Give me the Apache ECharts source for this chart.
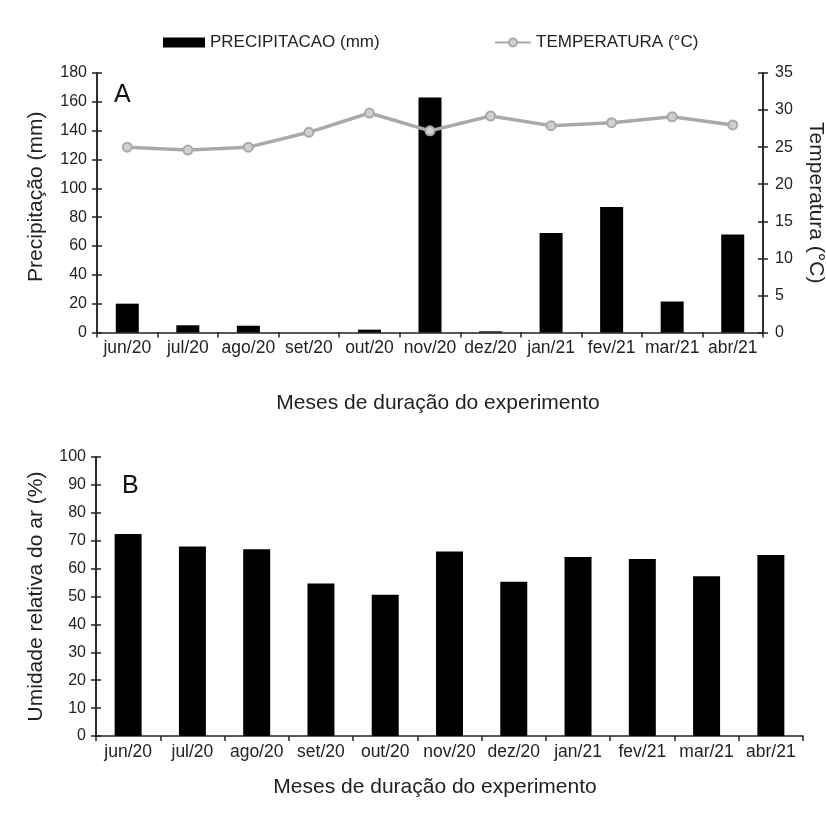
<!DOCTYPE html>
<html>
<head>
<meta charset="utf-8">
<script src="https://cdn.jsdelivr.net/npm/echarts@6/dist/echarts.min.js"></script>
<style>
html,body{margin:0;padding:0;background:#fff;}
#chart{width:826px;height:821px;}
</style>
</head>
<body>
<div id="chart"></div>
<script>
// Months of the experiment
const months = ['jun/20','jul/20','ago/20','set/20','out/20','nov/20','dez/20','jan/21','fev/21','mar/21','abr/21'];
// Panel A: monthly rainfall (mm) and mean temperature (°C)
const precipitacao = [20, 5, 4.7, 0, 2, 163, 0.8, 69, 87, 21.5, 68];
const temperatura = [25.0, 24.6, 25.0, 27.0, 29.6, 27.2, 29.2, 27.9, 28.3, 29.1, 28.0];
// Panel B: relative air humidity (%)
const umidade = [72.4, 67.9, 66.9, 54.7, 50.6, 66.1, 55.3, 64.2, 63.4, 57.3, 64.9];
// Axis tick ranges
const precipAxis = {min: 0, max: 180, interval: 20};
const tempAxis = {min: 0, max: 35, interval: 5};
const umidAxis = {min: 0, max: 100, interval: 10};

const FONT = 'Liberation Sans, Arial, sans-serif';
const INK = '#222';
const axisLine = {show: true, lineStyle: {color: INK, width: 1.5}};
const axisTick = {show: true, inside: false, length: 5, lineStyle: {color: INK, width: 1.5}};
const tickLabel = {color: INK, fontSize: 16, fontFamily: FONT};
const catLabel = {color: INK, fontSize: 17.5, fontFamily: FONT, margin: 7, interval: 0};
const nameStyle = {color: INK, fontSize: 21, fontFamily: FONT};

// Inner half of the cross-shaped value ticks: a label-less twin axis with inward ticks
function innerTicks(gridIndex, position, range) {
  return Object.assign({
    type: 'value', gridIndex: gridIndex, position: position, offset: 0,
    axisLine: axisLine, axisLabel: {show: false}, splitLine: {show: false},
    axisTick: {show: true, inside: true, length: 5, lineStyle: {color: INK, width: 1.5}}
  }, range);
}

const chart = echarts.init(document.getElementById('chart'), null, {renderer: 'canvas'});
chart.setOption({
  backgroundColor: '#fff',
  animation: false,
  legend: [
    {
      left: 158, top: 29, itemWidth: 42, itemHeight: 10, itemGap: 3,
      data: [{name: 'PRECIPITACAO (mm)', icon: 'rect'}],
      textStyle: {color: INK, fontSize: 17, fontFamily: FONT}
    },
    {
      left: 489, top: 29, itemWidth: 36, itemHeight: 10, itemGap: 2,
      data: ['TEMPERATURA (°C)'],
      textStyle: {color: INK, fontSize: 17, fontFamily: FONT}
    }
  ],
  title: [
    {text: 'A', left: 109, top: 78, textStyle: {fontSize: 25, fontWeight: 'normal', color: '#111', fontFamily: FONT}},
    {text: 'B', left: 117, top: 469, textStyle: {fontSize: 25, fontWeight: 'normal', color: '#111', fontFamily: FONT}}
  ],
  grid: [
    {left: 97, top: 73, width: 666, height: 259.5, outerBoundsMode: 'none', containLabel: false},
    {left: 96, top: 457, width: 707, height: 279, outerBoundsMode: 'none', containLabel: false}
  ],
  xAxis: [
    {
      type: 'category', gridIndex: 0, data: months,
      axisLine: axisLine, axisTick: axisTick, axisLabel: catLabel,
      name: 'Meses de duração do experimento', nameLocation: 'middle', nameGap: 60,
      nameTextStyle: Object.assign({padding: [0, 0, 0, 16]}, nameStyle)
    },
    {
      type: 'category', gridIndex: 1, data: months,
      axisLine: axisLine, axisTick: axisTick, axisLabel: catLabel,
      name: 'Meses de duração do experimento', nameLocation: 'middle', nameGap: 41,
      nameTextStyle: Object.assign({padding: [0, 29, 0, 0]}, nameStyle)
    }
  ],
  yAxis: [
    Object.assign({
      type: 'value', gridIndex: 0, position: 'left',
      axisLine: axisLine, axisTick: axisTick, axisLabel: Object.assign({margin: 10}, tickLabel),
      splitLine: {show: false},
      name: 'Precipitação (mm)', nameLocation: 'middle', nameGap: 50, nameRotate: 90,
      nameTextStyle: Object.assign({padding: [0, 0, 0, 12]}, nameStyle)
    }, precipAxis),
    Object.assign({
      type: 'value', gridIndex: 0, position: 'right',
      axisLine: axisLine, axisTick: axisTick, axisLabel: Object.assign({margin: 12}, tickLabel),
      splitLine: {show: false},
      name: 'Temperatura (°C)', nameLocation: 'middle', nameGap: 42, nameRotate: -90,
      nameTextStyle: nameStyle
    }, tempAxis),
    Object.assign({
      type: 'value', gridIndex: 1,
      axisLine: axisLine, axisTick: axisTick, axisLabel: Object.assign({margin: 10}, tickLabel),
      splitLine: {show: false},
      name: 'Umidade relativa do ar (%)', nameLocation: 'middle', nameGap: 49, nameRotate: 90,
      nameTextStyle: nameStyle
    }, umidAxis),
    innerTicks(0, 'left', precipAxis),
    innerTicks(0, 'right', tempAxis),
    innerTicks(1, 'left', umidAxis)
  ],
  series: [
    {
      name: 'PRECIPITACAO (mm)', type: 'bar', xAxisIndex: 0, yAxisIndex: 0,
      data: precipitacao, barWidth: '38%',
      itemStyle: {color: '#000'}
    },
    {
      name: 'TEMPERATURA (°C)', type: 'line', xAxisIndex: 0, yAxisIndex: 1,
      data: temperatura, symbol: 'circle', symbolSize: 9,
      lineStyle: {color: '#a9a9a9', width: 3.5},
      itemStyle: {color: '#d0d0d0', borderColor: '#a9a9a9', borderWidth: 2}
    },
    {
      name: 'Umidade', type: 'bar', xAxisIndex: 1, yAxisIndex: 2,
      data: umidade, barWidth: '42%',
      itemStyle: {color: '#000'}
    }
  ]
});
</script>
</body>
</html>
